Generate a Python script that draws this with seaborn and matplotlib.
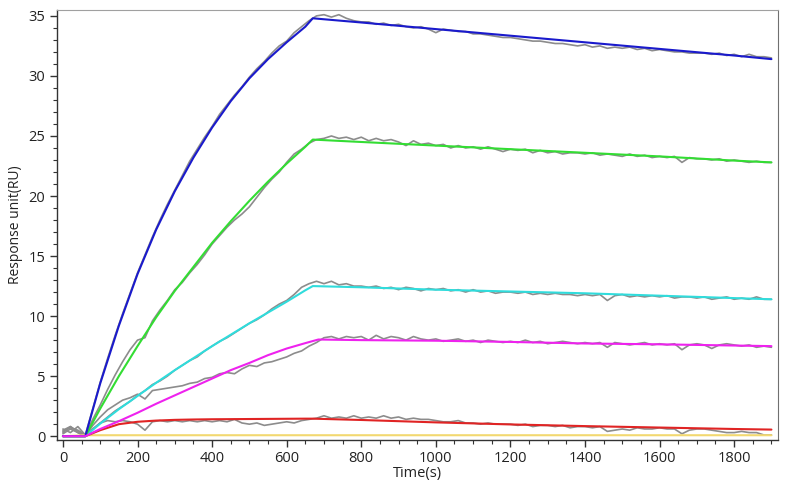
import numpy as np
import pandas as pd
import matplotlib
matplotlib.use("Agg")
import matplotlib.pyplot as plt
from matplotlib.ticker import MultipleLocator
import seaborn as sns

sns.set_style("ticks")
plt.rcParams['font.family'] = ['Open Sans', 'DejaVu Sans']

# -----------------------------
# measured sensorgrams (grey), sampled every 20 s
# -----------------------------
raw_time = list(range(0, 1901, 20))

raw_blue = [
    0.4, 0.7, 0.5, 0.1, 2.3, 4.5, 6.5, 8.4, 10.2, 11.9,
    13.6, 15.1, 16.6, 18.0, 19.3, 20.5, 21.7, 22.9, 23.9, 24.9,
    25.8, 26.8, 27.6, 28.4, 29.1, 29.9, 30.6, 31.2, 31.9, 32.5,
    32.9, 33.6, 34.1, 34.6, 35.0, 35.1, 34.9, 35.1, 34.8, 34.6,
    34.5, 34.5, 34.3, 34.4, 34.2, 34.3, 34.1, 34.0, 34.1, 33.9,
    33.6, 33.9, 33.8, 33.7, 33.7, 33.5, 33.5, 33.4, 33.3, 33.2,
    33.2, 33.1, 33.0, 32.9, 32.9, 32.8, 32.7, 32.7, 32.6, 32.5,
    32.6, 32.4, 32.5, 32.3, 32.4, 32.3, 32.4, 32.2, 32.3, 32.1,
    32.2, 32.1, 32.0, 32.0, 31.9, 31.9, 31.9, 31.8, 31.9, 31.7,
    31.8, 31.6, 31.8, 31.6, 31.6, 31.5]

raw_green = [
    0.6, 0.3, 0.8, 0.1, 1.4, 2.6, 3.9, 5.1, 6.2, 7.2,
    8.0, 8.2, 9.6, 10.5, 11.3, 12.2, 12.8, 13.6, 14.3, 15.1,
    16.0, 16.7, 17.4, 18.0, 18.5, 19.1, 19.9, 20.7, 21.4, 22.0,
    22.8, 23.5, 23.9, 24.4, 24.7, 24.8, 25.0, 24.8, 24.9, 24.7,
    24.9, 24.6, 24.8, 24.6, 24.7, 24.5, 24.2, 24.6, 24.3, 24.4,
    24.2, 24.3, 24.0, 24.2, 24.0, 24.1, 23.9, 24.1, 23.9, 23.7,
    23.9, 23.8, 23.9, 23.6, 23.8, 23.6, 23.7, 23.5, 23.6, 23.6,
    23.5, 23.6, 23.4, 23.5, 23.4, 23.3, 23.5, 23.3, 23.4, 23.2,
    23.3, 23.2, 23.3, 22.8, 23.2, 23.1, 23.1, 23.0, 23.1, 22.9,
    23.0, 22.9, 22.8, 22.9, 22.8, 22.8]

raw_cyan = [
    0.3, 0.8, 0.4, 0.0, 0.6, 1.1, 1.6, 2.1, 2.5, 2.9,
    3.4, 3.8, 4.3, 4.6, 5.0, 5.5, 5.9, 6.3, 6.6, 7.1,
    7.5, 7.9, 8.2, 8.6, 9.0, 9.4, 9.7, 10.1, 10.6, 11.0,
    11.3, 11.8, 12.4, 12.7, 12.9, 12.7, 12.9, 12.6, 12.7, 12.5,
    12.5, 12.4, 12.5, 12.3, 12.4, 12.2, 12.4, 12.3, 12.1, 12.3,
    12.2, 12.3, 12.1, 12.2, 12.0, 12.2, 12.0, 12.1, 11.9, 12.0,
    12.0, 11.9, 12.0, 11.8, 11.9, 11.8, 11.9, 11.8, 11.8, 11.7,
    11.8, 11.7, 11.8, 11.3, 11.7, 11.8, 11.6, 11.7, 11.6, 11.7,
    11.6, 11.7, 11.5, 11.6, 11.6, 11.5, 11.6, 11.4, 11.5, 11.6,
    11.4, 11.5, 11.4, 11.6, 11.4, 11.4]

raw_magenta = [
    0.2, 0.6, 0.3, 0.0, 0.9, 1.6, 2.2, 2.6, 3.0, 3.2,
    3.5, 3.1, 3.8, 3.9, 4.0, 4.1, 4.2, 4.4, 4.5, 4.8,
    4.9, 5.2, 5.3, 5.2, 5.6, 5.9, 5.8, 6.1, 6.2, 6.4,
    6.6, 6.9, 7.1, 7.5, 7.8, 8.2, 8.3, 8.1, 8.3, 8.2,
    8.3, 8.0, 8.4, 8.1, 8.3, 8.2, 8.0, 8.3, 8.1, 8.0,
    8.1, 7.9, 8.0, 8.1, 7.9, 8.0, 7.8, 8.0, 7.9, 7.8,
    7.9, 7.8, 8.0, 7.8, 7.9, 7.7, 7.8, 7.9, 7.8, 7.7,
    7.8, 7.7, 7.8, 7.4, 7.8, 7.7, 7.6, 7.7, 7.8, 7.6,
    7.7, 7.6, 7.7, 7.2, 7.6, 7.7, 7.6, 7.3, 7.6, 7.7,
    7.6, 7.5, 7.6, 7.4, 7.5, 7.4]

raw_red = [
    0.5, 0.8, 0.3, 0.0, 0.6, 1.1, 1.3, 1.2, 1.3, 1.2,
    1.0, 0.5, 1.2, 1.3, 1.2, 1.3, 1.2, 1.3, 1.2, 1.3,
    1.2, 1.3, 1.2, 1.4, 1.1, 1.0, 1.1, 0.9, 1.0, 1.1,
    1.2, 1.1, 1.3, 1.4, 1.5, 1.7, 1.5, 1.6, 1.5, 1.7,
    1.5, 1.6, 1.5, 1.7, 1.5, 1.6, 1.4, 1.5, 1.4, 1.4,
    1.3, 1.2, 1.2, 1.3, 1.1, 1.1, 1.0, 1.1, 1.0, 1.0,
    1.0, 0.9, 1.0, 0.8, 0.9, 0.9, 0.8, 0.9, 0.7, 0.8,
    0.8, 0.7, 0.8, 0.4, 0.5, 0.6, 0.5, 0.7, 0.6, 0.6,
    0.7, 0.6, 0.6, 0.2, 0.5, 0.6, 0.6, 0.5, 0.4, 0.3,
    0.3, 0.4, 0.3, 0.3, 0.1, 0.1]

# -----------------------------
# fitted curves (coloured)
# -----------------------------
fit_time = [0, 60, 100, 150, 200, 250, 300, 350, 400, 450, 500, 550, 600,
            650, 670, 800, 1000, 1200, 1400, 1600, 1800, 1900]
magenta_time = [0, 60, 100, 150, 200, 250, 300, 350, 400, 450, 500, 550, 600,
                650, 685, 800, 1000, 1200, 1400, 1600, 1800, 1900]
yellow_time = [0, 60, 1900]

fit_blue = [0, 0, 4.4, 9.2, 13.5, 17.2, 20.4, 23.2, 25.7, 27.9, 29.8, 31.4,
            32.8, 34.1, 34.8, 34.45, 33.9, 33.35, 32.8, 32.25, 31.7, 31.4]
fit_green = [0, 0, 2.3, 5.0, 7.5, 9.9, 12.1, 14.1, 16.1, 17.9, 19.6, 21.2,
             22.7, 24.1, 24.7, 24.5, 24.2, 23.9, 23.6, 23.3, 22.95, 22.8]
fit_cyan = [0, 0, 1.05, 2.25, 3.35, 4.45, 5.5, 6.5, 7.5, 8.45, 9.4, 10.3,
            11.2, 12.15, 12.5, 12.4, 12.2, 12.05, 11.9, 11.7, 11.5, 11.4]
fit_magenta = [0, 0, 0.6, 1.25, 1.95, 2.7, 3.4, 4.1, 4.8, 5.5, 6.1, 6.75,
               7.3, 7.75, 8.05, 8.0, 7.95, 7.85, 7.72, 7.65, 7.55, 7.5]
fit_red = [0, 0, 0.5, 1.0, 1.2, 1.3, 1.36, 1.39, 1.41, 1.42, 1.43, 1.44,
           1.45, 1.46, 1.46, 1.35, 1.15, 0.98, 0.84, 0.72, 0.6, 0.55]
fit_yellow = [0, 0.08, 0.08]

fig, ax = plt.subplots(figsize=(7.86, 4.94), dpi=100)
fig.subplots_adjust(left=0.0725, right=0.990, top=0.980, bottom=0.109)

# grey raw traces
for trace in [raw_blue, raw_green, raw_cyan, raw_magenta, raw_red]:
    sns.lineplot(x=raw_time, y=trace, ax=ax, color='#8c8c8c', linewidth=1.2,
                 estimator=None, sort=False)

# fitted curves on top
fits = [
    (yellow_time, fit_yellow, '#f2d870'),
    (fit_time, fit_red, '#e02424'),
    (fit_time, fit_cyan, '#30dcdc'),
    (fit_time, fit_green, '#33dd33'),
    (fit_time, fit_blue, '#1a1acc'),
    (magenta_time, fit_magenta, '#ee22ee'),
]
for tx, ty, col in fits:
    sns.lineplot(x=tx, y=ty, ax=ax, color=col, linewidth=1.5,
                 estimator=None, sort=False)

ax.set_xlim(-16, 1918)
ax.set_ylim(-0.33, 35.5)
ax.xaxis.set_major_locator(MultipleLocator(200))
ax.xaxis.set_minor_locator(MultipleLocator(50))
ax.yaxis.set_major_locator(MultipleLocator(5))
ax.yaxis.set_minor_locator(MultipleLocator(1))
ax.tick_params(which='major', direction='out', length=5, width=1, colors='#333333',
               labelsize=10.5, labelcolor='#222222')
ax.tick_params(which='minor', direction='out', length=3, width=0.8, colors='#333333')
ax.tick_params(axis='x', pad=3)

for side in ['left', 'bottom']:
    ax.spines[side].set_color('#333333')
    ax.spines[side].set_linewidth(1.0)
ax.spines['top'].set_color('#a0a0a0')
ax.spines['right'].set_color('#707070')

ax.set_xlabel('Time(s)', fontsize=10.5, color='#222222', labelpad=0)
ax.set_ylabel('Response unit(RU)', fontsize=10, color='#222222', labelpad=4)

fig.savefig('out.png', dpi=100)
